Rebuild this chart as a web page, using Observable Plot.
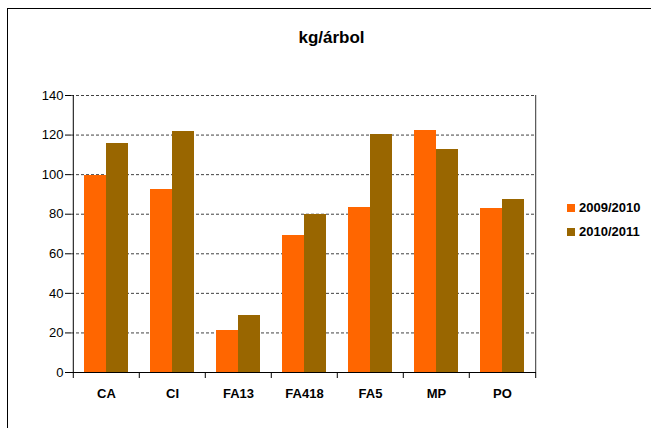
<!DOCTYPE html>
<html>
<head>
<meta charset="utf-8">
<script src="https://cdn.jsdelivr.net/npm/d3@7"></script>
<script src="https://cdn.jsdelivr.net/npm/@observablehq/plot@0.6"></script>
<style>
  html, body { margin: 0; padding: 0; background: #fff; }
  #wrap { position: relative; width: 651px; height: 428px; overflow: hidden; font-family: "Liberation Sans", Arial, sans-serif; }
  #wrap svg { position: absolute; left: 0; top: 0; }
  #frame { position: absolute; left: 7px; top: 8px; width: 700px; height: 480px; border: 1px solid #000; box-sizing: border-box; }
  #title { position: absolute; left: 0; top: 29px; width: 663px; text-align: center; font-size: 17px; line-height: 17px; font-weight: bold; color: #000; }
  .leg { position: absolute; left: 567px; font-size: 13px; font-weight: bold; line-height: 13px; color: #000; white-space: nowrap; }
  .leg span.sw { display: inline-block; width: 8px; height: 8px; margin-right: 4px; vertical-align: 0px; }
  svg [aria-label^="x-axis"] text { font-weight: bold; font-size: 13px; }
  svg [aria-label^="y-axis"] text { font-size: 13px; }
</style>
</head>
<body>
<div id="wrap"></div>
<script>
const categories = ["CA", "CI", "FA13", "FA418", "FA5", "MP", "PO"];
const seriesNames = ["2009/2010", "2010/2011"];
const values2009 = [99.5, 92.7, 21.2, 69.2, 83.4, 122.3, 82.9];
const values2010 = [115.8, 121.8, 28.8, 79.9, 120.2, 112.7, 87.4];
const seriesColors = ["#FF6600", "#996600"];
const yTicks = [0, 20, 40, 60, 80, 100, 120, 140];

const W = 651, H = 428;
const mL = 71, mR = 115, mT = 95, mB = 56;
const band = (W - mL - mR) / categories.length;
const barW = band * 0.336;
const outer = (band - 2 * barW) / 2;

const rows = categories.map((c, i) => ({cat: c, a: values2009[i], b: values2010[i]}));
const tickLen = 6 * 140 / (H - mT - mB);

const plot = Plot.plot({
  width: W, height: H,
  marginLeft: mL, marginRight: mR, marginTop: mT, marginBottom: mB,
  style: {background: "transparent", fontFamily: "Liberation Sans, Arial, sans-serif", fontSize: "12px", color: "#000"},
  x: {domain: categories, padding: 0, tickSize: 0, tickPadding: 16, label: null},
  y: {domain: [0, 140], ticks: yTicks, tickSize: 6, tickPadding: 2, label: null, tickFormat: d => String(d)},
  marks: [
    Plot.ruleY(yTicks.filter(t => t > 0), {stroke: "#111", strokeDasharray: "3,2", strokeWidth: 1, strokeOpacity: 0.8}),
    Plot.barY(rows, {x: "cat", y: "a", fill: seriesColors[0], insetLeft: outer, insetRight: outer + barW, shapeRendering: "crispEdges"}),
    Plot.barY(rows, {x: "cat", y: "b", fill: seriesColors[1], insetLeft: outer + barW, insetRight: outer, shapeRendering: "crispEdges"}),
    // y axis line and right border
    Plot.ruleX([categories[0]], {x: d => d, dx: -band / 2, y1: 0, y2: 140, stroke: "#000"}),
    Plot.ruleX([categories[categories.length - 1]], {x: d => d, dx: band / 2, y1: 0, y2: 140, stroke: "#333"}),
    // x baseline
    Plot.ruleY([0], {stroke: "#000", strokeWidth: 1.2}),
    // category boundary ticks
    Plot.ruleX(categories, {x: d => d, dx: -band / 2, y1: 0, y2: -tickLen, stroke: "#000"}),
    Plot.ruleX([categories[categories.length - 1]], {x: d => d, dx: band / 2, y1: 0, y2: -tickLen, stroke: "#000"})
  ]
});

const wrap = document.getElementById("wrap");
wrap.appendChild(plot);

const title = document.createElement("div");
title.id = "title";
title.textContent = "kg/árbol";
wrap.appendChild(title);

seriesNames.forEach((name, i) => {
  const d = document.createElement("div");
  d.className = "leg";
  d.style.top = (201 + i * 24) + "px";
  const sw = document.createElement("span");
  sw.className = "sw";
  sw.style.background = seriesColors[i];
  d.appendChild(sw);
  d.appendChild(document.createTextNode(name));
  wrap.appendChild(d);
});

const fr = document.createElement("div");
fr.id = "frame";
wrap.appendChild(fr);
</script>
</body>
</html>
